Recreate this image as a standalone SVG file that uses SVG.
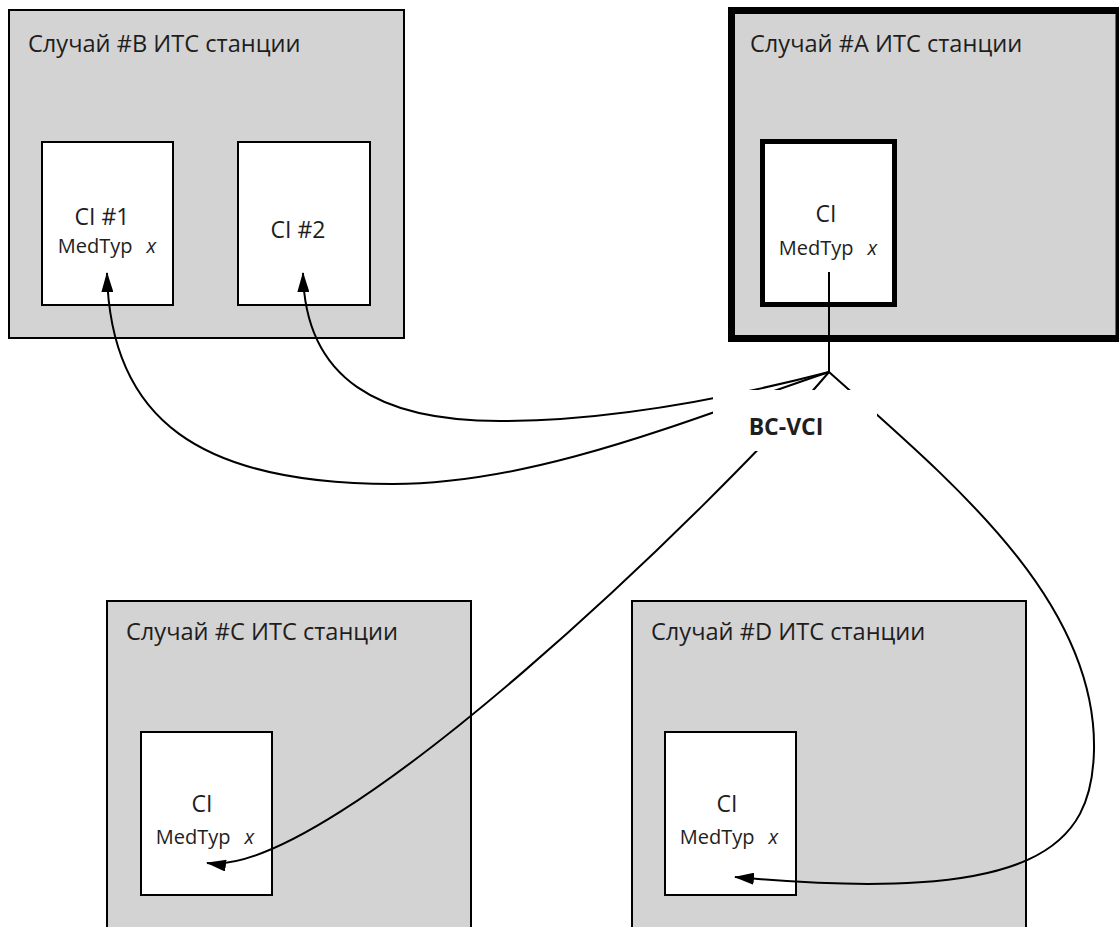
<svg xmlns="http://www.w3.org/2000/svg" width="1119" height="927" viewBox="0 0 1119 927">
<style>
.station{fill:#d3d3d3;stroke:#000;stroke-width:2}
.ci{fill:#fff;stroke:#000;stroke-width:2}
.title{font-family:"Open Sans","Liberation Sans",sans-serif;font-size:23.6px;fill:#1e1e1e}
.cil{font-family:"Open Sans","Liberation Sans",sans-serif;font-size:23px;fill:#1e1e1e;text-anchor:middle}
.med{font-family:"Open Sans","Liberation Sans",sans-serif;font-size:20px;fill:#1e1e1e;text-anchor:middle}
.it{font-style:italic}
.conn{fill:none;stroke:#000;stroke-width:2}
.lbl{font-family:"Open Sans","Liberation Sans",sans-serif;font-size:23px;font-weight:bold;fill:#1e1e1e;text-anchor:middle}
</style>
<defs>
<marker id="arr" viewBox="0 0 20 12" refX="19" refY="6" markerWidth="20" markerHeight="12" markerUnits="userSpaceOnUse" orient="auto">
<path d="M0,0 L20,6 L0,12 Z" fill="#000"/>
</marker>
</defs>
<rect x="0" y="0" width="1119" height="927" fill="#fff"/>

<g id="station-B">
<rect class="station" x="9" y="10" width="395" height="328"/>
<text class="title" x="28" y="52">Случай #B ИТС станции</text>
</g>
<g id="ci-B1">
<rect class="ci" x="42" y="142" width="131" height="163"/>
<text class="cil" x="102" y="225">CI #1</text>
<text class="med" x="107" y="253">MedTyp<tspan class="it" dx="14">x</tspan></text>
</g>
<g id="ci-B2">
<rect class="ci" x="238" y="142" width="132" height="163"/>
<text class="cil" x="298" y="238">CI #2</text>
</g>

<g id="station-A">
<rect x="731.5" y="10.5" width="387.5" height="328" fill="#d3d3d3" stroke="#000" stroke-width="7"/>
<text class="title" x="750" y="52">Случай #A ИТС станции</text>
</g>
<g id="ci-A">
<rect x="762.5" y="141.5" width="132" height="163" fill="#fff" stroke="#000" stroke-width="5"/>
<text class="cil" x="826" y="222">CI</text>
<text class="med" x="828" y="255">MedTyp<tspan class="it" dx="14">x</tspan></text>
</g>

<g id="station-C">
<rect class="station" x="107" y="601" width="364" height="340"/>
<text class="title" x="126" y="640">Случай #C ИТС станции</text>
</g>
<g id="ci-C">
<rect class="ci" x="141" y="732" width="131" height="163"/>
<text class="cil" x="202" y="812">CI</text>
<text class="med" x="205" y="844">MedTyp<tspan class="it" dx="14">x</tspan></text>
</g>

<g id="station-D">
<rect class="station" x="632" y="601" width="394" height="340"/>
<text class="title" x="651" y="640">Случай #D ИТС станции</text>
</g>
<g id="ci-D">
<rect class="ci" x="665" y="732" width="131" height="163"/>
<text class="cil" x="727" y="812">CI</text>
<text class="med" x="729" y="844">MedTyp<tspan class="it" dx="14">x</tspan></text>
</g>

<g id="connectors">
<path class="conn" d="M829,272 L829,372" stroke-width="1.6"/>
<path class="conn" d="M829,372 C700,415 540,484 393,484 C200,484 110,420 107,273" marker-end="url(#arr)"/>
<path class="conn" d="M829,372 C740,395 620,421 500,421 C380,421 305,380 303,273" marker-end="url(#arr)"/>
<path class="conn" d="M829,372 C720,500 330,880 207,863" marker-end="url(#arr)"/>
<path class="conn" d="M829,372 C950,480 1097,600 1094,750 C1092,845 1040,905 735,877" marker-end="url(#arr)"/>
</g>

<g id="label-bcvci">
<rect x="713" y="390" width="164" height="61" fill="#fff"/>
<text class="lbl" x="786" y="435">BC-VCI</text>
</g>
</svg>
